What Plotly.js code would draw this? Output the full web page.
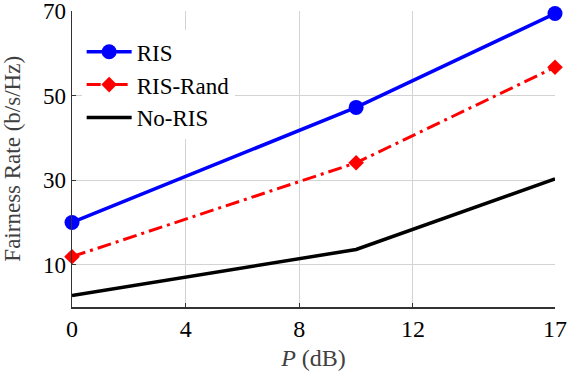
<!DOCTYPE html>
<html>
<head>
<meta charset="utf-8">
<script src="https://cdn.plot.ly/plotly-3.0.1.min.js"></script>
<style>
  html, body { margin: 0; padding: 0; background: #fff; }
  #plot { width: 570px; height: 374px; }
</style>
</head>
<body>
<div id="plot"></div>
<script>
// transmit power (dB)
var power = [0, 10, 17];

// fairness rate for each scheme
var risRate = [20, 47.2, 69.4];
var randRate = [11.9, 34.1, 56.7];
var noRisRate = [2.7, 13.6, 30.3];

var xTicks = [0, 4, 8, 12, 17];
var yTicks = [10, 30, 50, 70];

var serif = "'Liberation Serif', 'DejaVu Serif', serif";

var trace1 = {
  x: power,
  y: risRate,
  name: "RIS",
  type: "scatter",
  mode: "lines+markers",
  cliponaxis: false,
  line: { color: "#0000ff", width: 3.5 },
  marker: { symbol: "circle", size: 15, color: "#0000ff" }
};

var trace2 = {
  x: power,
  y: randRate,
  name: "RIS-Rand",
  type: "scatter",
  mode: "lines+markers",
  cliponaxis: false,
  line: { color: "#ff0000", width: 3, dash: "14px,5px,3px,5px" },
  marker: { symbol: "diamond", size: 12, color: "#ff0000" }
};

var trace3 = {
  x: power,
  y: noRisRate,
  name: "No-RIS",
  type: "scatter",
  mode: "lines",
  cliponaxis: false,
  line: { color: "#000000", width: 3.5 }
};

var data = [trace1, trace2, trace3];

var layout = {
  width: 570,
  height: 374,
  margin: { l: 72, r: 15, t: 11, b: 67 },
  paper_bgcolor: "#fff",
  plot_bgcolor: "#fff",
  font: { family: serif, size: 22, color: "#000" },
  showlegend: true,
  legend: {
    x: 0.02,
    y: 0.935,
    xanchor: "left",
    yanchor: "top",
    bgcolor: "#fff",
    borderwidth: 0,
    itemwidth: 45,
    font: { family: serif, size: 23, color: "#000" },
    tracegroupgap: 0
  },
  xaxis: {
    range: [0, 17],
    tickvals: xTicks,
    ticktext: xTicks.map(String),
    ticklabeloverflow: "allow",
    showgrid: true,
    gridcolor: "#d3d3d3",
    gridwidth: 1,
    zeroline: false,
    showline: true,
    linecolor: "#333",
    linewidth: 1.5,
    ticks: "inside",
    ticklen: 4,
    tickcolor: "#333",
    tickfont: { family: serif, size: 24, color: "#000" },
    title: {
      text: "<i>P</i> (dB)",
      font: { family: serif, size: 24, color: "#404040" },
      standoff: 8
    }
  },
  yaxis: {
    range: [0, 70],
    tickvals: yTicks,
    ticktext: yTicks.map(String),
    ticklabeloverflow: "allow",
    showgrid: true,
    gridcolor: "#d3d3d3",
    gridwidth: 1,
    zeroline: false,
    showline: true,
    linecolor: "#333",
    linewidth: 1.5,
    ticks: "inside",
    ticklen: 4,
    tickcolor: "#333",
    tickfont: { family: serif, size: 23, color: "#000" }
  },
  // y title placed by hand so it sits near the page edge like the original
  annotations: [{
    text: "Fairness Rate (b/s/Hz)",
    xref: "paper",
    yref: "paper",
    x: -0.125,
    y: 0.5,
    xanchor: "center",
    yanchor: "middle",
    textangle: -90,
    showarrow: false,
    font: { family: serif, size: 23, color: "#404040" }
  }]
};

Plotly.newPlot("plot", data, layout, { displayModeBar: false, staticPlot: true });
</script>
</body>
</html>
